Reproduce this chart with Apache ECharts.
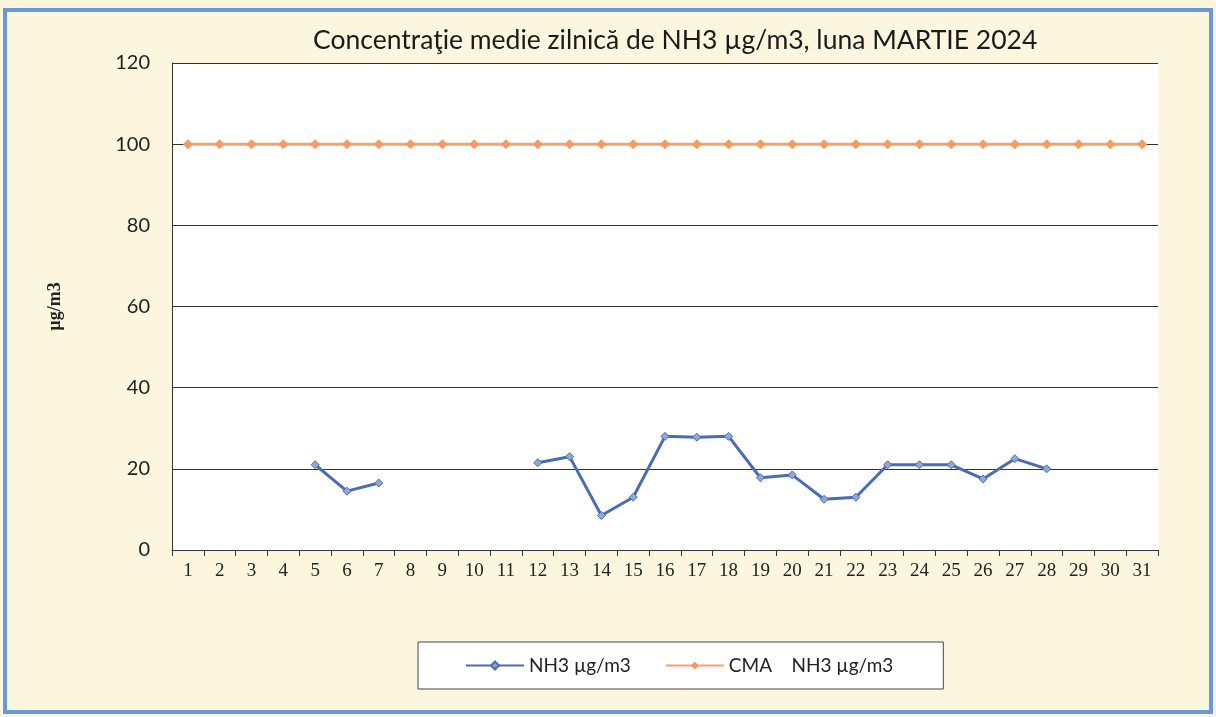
<!DOCTYPE html>
<html><head><meta charset="utf-8">
<script src="https://cdn.jsdelivr.net/npm/echarts@6/dist/echarts.min.js"></script>
<style>html,body{margin:0;padding:0;background:#fcf6df}#c{width:1216px;height:717px}</style>
</head><body><div id="c"></div>
<script>
const days = Array.from({length:31},(_,i)=>String(i+1));
const nh3 = [null,null,null,null,21,14.5,16.5,null,null,null,null,21.5,23,8.5,13,28,27.8,28,17.8,18.5,12.5,13,21,21,21,17.5,22.5,20,null,null,null];
const cma = [100,100,100,100,100,100,100,100,100,100,100,100,100,100,100,100,100,100,100,100,100,100,100,100,100,100,100,100,100,100,100];
const yTicks = {min:0,max:120,interval:20};

const chart = echarts.init(document.getElementById('c'));
chart.setOption({
  backgroundColor:'#fcf6df',
  animation:false,
  graphic:[{type:'rect',shape:{x:5,y:10,width:1206,height:702},style:{fill:'none',stroke:'#6a98dc',lineWidth:4},z:-1}],
  title:{text:'Concentraţie medie zilnică de NH3 µg/m3, luna MARTIE 2024',left:308,top:22,
    textStyle:{fontFamily:'Lato',fontSize:26.5,fontWeight:'normal',color:'#1a1a1a'}},
  grid:{left:172,right:58,top:63,bottom:167,show:true,backgroundColor:'#ffffff',borderWidth:0},
  legend:{left:418,top:642,orient:'horizontal',borderColor:'#444',borderWidth:1,backgroundColor:'#fff',
    padding:[14,50,14,47],itemGap:34,itemWidth:58,itemHeight:10,
    textStyle:{fontFamily:'Lato',fontSize:19,color:'#222'},
    data:['NH3 µg/m3','CMA    NH3 µg/m3']},
  xAxis:{type:'category',data:days,boundaryGap:true,
    axisLine:{lineStyle:{color:'#333',width:1}},
    axisTick:{show:true,inside:false,length:6,alignWithLabel:false,lineStyle:{color:'#333'}},
    axisLabel:{fontFamily:'Liberation Serif',fontSize:19,color:'#222',margin:12,interval:0}},
  yAxis:{type:'value',min:yTicks.min,max:yTicks.max,interval:yTicks.interval,
    name:'µg/m3',nameLocation:'middle',nameRotate:90,nameGap:108,
    nameTextStyle:{fontFamily:'Liberation Serif',fontSize:18,fontWeight:'bold',color:'#222'},
    axisLine:{show:true,lineStyle:{color:'#333'}},
    axisTick:{show:false},
    axisLabel:{fontFamily:'Lato',fontSize:20,color:'#222',margin:22},
    splitLine:{lineStyle:{color:'#333',width:1}}},
  series:[
    {name:'NH3 µg/m3',type:'line',data:nh3,connectNulls:false,symbol:'diamond',symbolSize:8,
      lineStyle:{color:'#4a6cb3',width:3},itemStyle:{color:'#8fa8d8',borderColor:'#4a6cb3',borderWidth:1},color:'#4a6cb3'},
    {name:'CMA    NH3 µg/m3',type:'line',data:cma,symbol:'diamond',symbolSize:10,
      lineStyle:{color:'#f7a070',width:3},itemStyle:{color:'#f79a60'},color:'#f79a60'}
  ]
});
</script></body></html>
